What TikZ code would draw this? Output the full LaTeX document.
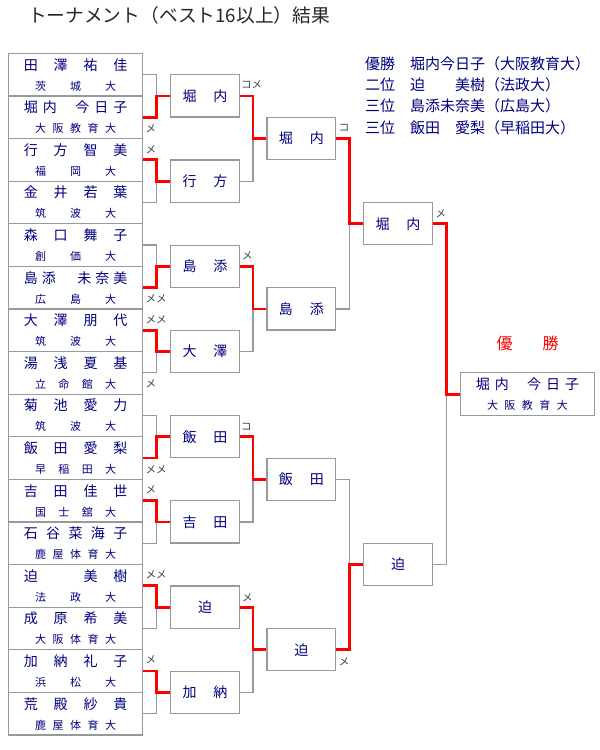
\documentclass[tikz,border=0pt]{standalone}
\usepackage{fontspec}
\setmainfont{Noto Sans CJK JP}
\definecolor{navyink}{HTML}{000080}
\definecolor{linegray}{HTML}{999999}
% nome e universita' distribuiti sulla larghezza del riquadro
\newcommand{\pname}[1]{\makebox[103.5pt][s]{#1}}
\newcommand{\puniv}[1]{{\fontsize{11}{20}\selectfont\makebox[81pt][s]{#1}}}
\begin{document}
\begin{tikzpicture}[x=1pt, y=-1pt,
  player/.style={draw=linegray, line width=1.2pt, fill=white, inner sep=0pt,
                 minimum width=134.2pt, minimum height=42.6pt, align=center,
                 text=navyink, font=\fontsize{14}{20}\selectfont},
  roundbox/.style={draw=linegray, line width=1.2pt, fill=white, inner sep=0pt,
                 minimum width=68.6pt, minimum height=42.3pt,
                 text=navyink, font=\fontsize{14}{14}\selectfont},
  win/.style={draw=red, line width=2.8pt},
  lose/.style={draw=linegray, line width=1.2pt},
  score/.style={anchor=west, inner sep=0pt, text=black!75,
                font=\fontsize{10.5}{10.5}\selectfont}
]
\useasboundingbox (0,0) rectangle (600,750);

% ---- titolo e risultati ------------------------------------------------
\node[text=black!85, font=\fontsize{18.7}{18.7}\selectfont] (title) at (179,15.5)
  {トーナメント（ベスト16以上）結果};
\node[anchor=north west, inner sep=0pt, align=left, text=navyink,
      font=\fontsize{15}{21.2}\selectfont] (ranking) at (365,56.5)
  {優勝　堀内今日子（大阪教育大）\\
   二位　\makebox[5em][s]{迫\hfill 美樹}（法政大）\\
   三位　島添未奈美（広島大）\\
   三位　\makebox[5em][s]{飯田\hfill 愛梨}（早稲田大）};

% ---- giocatori ---------------------------------------------------------
\node[player] (p1)  at (75.6, 74.6) {\pname{田\hfill 澤\hfill 祐\hfill 佳}\\\puniv{茨\hfill 城\hfill 大}};
\node[player] (p2)  at (75.6,117.2) {\pname{堀\hspace{5pt}内\hfill 今\hspace{5pt}日\hspace{5pt}子}\\\puniv{大\hfill 阪\hfill 教\hfill 育\hfill 大}};
\node[player] (p3)  at (75.6,159.8) {\pname{行\hfill 方\hfill 智\hfill 美}\\\puniv{福\hfill 岡\hfill 大}};
\node[player] (p4)  at (75.6,202.4) {\pname{金\hfill 井\hfill 若\hfill 葉}\\\puniv{筑\hfill 波\hfill 大}};
\node[player] (p5)  at (75.6,245.0) {\pname{森\hfill 口\hfill 舞\hfill 子}\\\puniv{創\hfill 価\hfill 大}};
\node[player] (p6)  at (75.6,287.6) {\pname{島\hspace{4pt}添\hfill 未\hspace{4pt}奈\hspace{4pt}美}\\\puniv{広\hfill 島\hfill 大}};
\node[player] (p7)  at (75.6,330.2) {\pname{大\hfill 澤\hfill 朋\hfill 代}\\\puniv{筑\hfill 波\hfill 大}};
\node[player] (p8)  at (75.6,372.8) {\pname{湯\hfill 浅\hfill 夏\hfill 基}\\\puniv{立\hfill 命\hfill 館\hfill 大}};
\node[player] (p9)  at (75.6,415.4) {\pname{菊\hfill 池\hfill 愛\hfill 力}\\\puniv{筑\hfill 波\hfill 大}};
\node[player] (p10) at (75.6,458.0) {\pname{飯\hfill 田\hfill 愛\hfill 梨}\\\puniv{早\hfill 稲\hfill 田\hfill 大}};
\node[player] (p11) at (75.6,500.6) {\pname{吉\hfill 田\hfill 佳\hfill 世}\\\puniv{国\hfill 士\hfill 舘\hfill 大}};
\node[player] (p12) at (75.6,543.2) {\pname{石\hfill 谷\hfill 菜\hfill 海\hfill 子}\\\puniv{鹿\hfill 屋\hfill 体\hfill 育\hfill 大}};
\node[player] (p13) at (75.6,585.8) {\pname{迫\hfill \phantom{美}\hfill 美\hfill 樹}\\\puniv{法\hfill 政\hfill 大}};
\node[player] (p14) at (75.6,628.4) {\pname{成\hfill 原\hfill 希\hfill 美}\\\puniv{大\hfill 阪\hfill 体\hfill 育\hfill 大}};
\node[player] (p15) at (75.6,671.0) {\pname{加\hfill 納\hfill 礼\hfill 子}\\\puniv{浜\hfill 松\hfill 大}};
\node[player] (p16) at (75.6,713.6) {\pname{荒\hfill 殿\hfill 紗\hfill 貴}\\\puniv{鹿\hfill 屋\hfill 体\hfill 育\hfill 大}};

% ---- turni -------------------------------------------------------------
\node[roundbox] (q1) at (205, 95.9) {\makebox[45pt][s]{堀\hfill 内}};
\node[roundbox] (q2) at (205,181.1) {\makebox[45pt][s]{行\hfill 方}};
\node[roundbox] (q3) at (205,266.3) {\makebox[45pt][s]{島\hfill 添}};
\node[roundbox] (q4) at (205,351.5) {\makebox[45pt][s]{大\hfill 澤}};
\node[roundbox] (q5) at (205,436.7) {\makebox[45pt][s]{飯\hfill 田}};
\node[roundbox] (q6) at (205,521.9) {\makebox[45pt][s]{吉\hfill 田}};
\node[roundbox] (q7) at (205,607.1) {迫};
\node[roundbox] (q8) at (205,692.3) {\makebox[45pt][s]{加\hfill 納}};

\node[roundbox] (s1) at (301.3,138.5) {\makebox[45pt][s]{堀\hfill 内}};
\node[roundbox] (s2) at (301.3,308.9) {\makebox[45pt][s]{島\hfill 添}};
\node[roundbox] (s3) at (301.3,479.3) {\makebox[45pt][s]{飯\hfill 田}};
\node[roundbox] (s4) at (301.3,649.7) {迫};

\node[roundbox] (f1) at (398,223.7) {\makebox[45pt][s]{堀\hfill 内}};
\node[roundbox] (f2) at (398,564.5) {迫};

\node[player] (champ) at (527.5,394.1) {\pname{堀\hspace{5pt}内\hfill 今\hspace{5pt}日\hspace{5pt}子}\\\puniv{大\hfill 阪\hfill 教\hfill 育\hfill 大}};
\node[text=red, font=\fontsize{16}{16}\selectfont] (yusho) at (527.7,343.3)
  {\makebox[62pt][s]{優\hfill 勝}};

% ---- collegamenti: prima i perdenti, poi i vincitori -------------------
\draw[lose] (p1.east)  -| ([xshift=-13.7pt]q1.west);
\draw[lose] (p4.east)  -| ([xshift=-13.7pt]q2.west);
\draw[lose] (p5.east)  -| ([xshift=-13.7pt]q3.west);
\draw[lose] (p8.east)  -| ([xshift=-13.7pt]q4.west);
\draw[lose] (p9.east)  -| ([xshift=-13.7pt]q5.west);
\draw[lose] (p12.east) -| ([xshift=-13.7pt]q6.west);
\draw[lose] (p14.east) -| ([xshift=-13.7pt]q7.west);
\draw[lose] (p16.east) -| ([xshift=-13.7pt]q8.west);
\draw[lose] (q2.east)  -| ([xshift=-13.4pt]s1.west);
\draw[lose] (q4.east)  -| ([xshift=-13.4pt]s2.west);
\draw[lose] (q6.east)  -| ([xshift=-13.4pt]s3.west);
\draw[lose] (q8.east)  -| ([xshift=-13.4pt]s4.west);
\draw[lose] (s2.east)  -| ([xshift=-13.3pt]f1.west);
\draw[lose] (s3.east)  -| ([xshift=-13.3pt]f2.west);
\draw[lose] (f2.east)  -| ([xshift=-13.3pt]champ.west);

\draw[win] (p2.east)  -| ([xshift=-13.7pt]q1.west) -- (q1.west);
\draw[win] (p3.east)  -| ([xshift=-13.7pt]q2.west) -- (q2.west);
\draw[win] (p6.east)  -| ([xshift=-13.7pt]q3.west) -- (q3.west);
\draw[win] (p7.east)  -| ([xshift=-13.7pt]q4.west) -- (q4.west);
\draw[win] (p10.east) -| ([xshift=-13.7pt]q5.west) -- (q5.west);
\draw[win] (p11.east) -| ([xshift=-13.7pt]q6.west) -- (q6.west);
\draw[win] (p13.east) -| ([xshift=-13.7pt]q7.west) -- (q7.west);
\draw[win] (p15.east) -| ([xshift=-13.7pt]q8.west) -- (q8.west);
\draw[win] (q1.east)  -| ([xshift=-13.4pt]s1.west) -- (s1.west);
\draw[win] (q3.east)  -| ([xshift=-13.4pt]s2.west) -- (s2.west);
\draw[win] (q5.east)  -| ([xshift=-13.4pt]s3.west) -- (s3.west);
\draw[win] (q7.east)  -| ([xshift=-13.4pt]s4.west) -- (s4.west);
\draw[win] (s1.east)  -| ([xshift=-13.3pt]f1.west) -- (f1.west);
\draw[win] (s4.east)  -| ([xshift=-13.3pt]f2.west) -- (f2.west);
\draw[win] (f1.east)  -| ([xshift=-13.3pt]champ.west) -- (champ.west);

% ---- punti ---------------------------------------------------------------
\node[score] (k2)  at (145.4,128.3) {メ};
\node[score] (k3)  at (145.4,149.3) {メ};
\node[score] (k6)  at (145.4,298.3) {メメ};
\node[score] (k7)  at (145.4,319.3) {メメ};
\node[score] (k8)  at (145.4,383.3) {メ};
\node[score] (k10) at (145.4,469.3) {メメ};
\node[score] (k11) at (145.4,490.0) {メ};
\node[score] (k13) at (145.4,575.0) {メメ};
\node[score] (k15) at (145.4,660.0) {メ};
\node[score] (kq1) at (241.0, 85.0) {コメ};
\node[score] (kq3) at (242.0,255.7) {メ};
\node[score] (kq5) at (241.0,426.7) {コ};
\node[score] (kq7) at (242.0,597.3) {メ};
\node[score] (ks1) at (338.7,128.3) {コ};
\node[score] (ks4) at (338.7,661.7) {メ};
\node[score] (kf1) at (435.4,213.3) {メ};

\end{tikzpicture}
\end{document}
